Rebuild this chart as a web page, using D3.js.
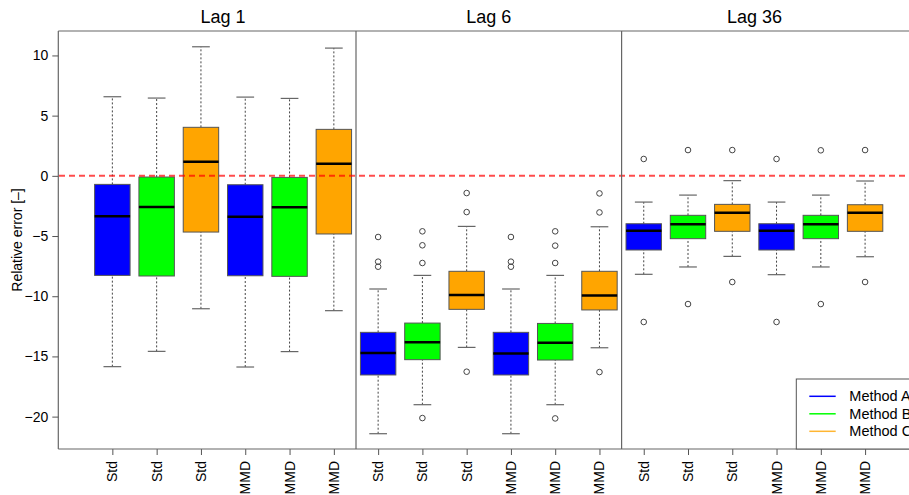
<!DOCTYPE html>
<html><head><meta charset="utf-8">
<script src="https://cdn.jsdelivr.net/npm/d3@7/dist/d3.min.js"></script>
<style>body{margin:0;background:#fff}svg{display:block;font-family:"Liberation Sans",Arial,sans-serif}</style>
</head><body><svg id="c" width="909" height="495"></svg>
<script>
const lags = ["Lag 1", "Lag 6", "Lag 36"];
const categories = ["Std", "Std", "Std", "MMD", "MMD", "MMD"];
const methods = ["Method A", "Method B", "Method C"];
const methodColors = ["#0000FF", "#00FF00", "#FFA500"];
const yTicks = [-20, -15, -10, -5, 0, 5, 10];
// [lower whisker, Q1, median, Q3, upper whisker]
const lag1Stats = [
  [-15.85, -8.27, -3.36, -0.71, 6.57],
  [-14.58, -8.32, -2.59, -0.10, 6.46],
  [-11.04, -4.67, 1.17, 4.03, 10.72],
  [-15.88, -8.30, -3.39, -0.74, 6.54],
  [-14.60, -8.35, -2.62, -0.13, 6.43],
  [-11.20, -4.83, 1.00, 3.86, 10.61]
];
const lag1Outliers = [[], [], [], [], [], []];
const lag6Stats = [
  [-21.42, -16.54, -14.72, -13.00, -9.40],
  [-19.01, -15.27, -13.83, -12.23, -8.27],
  [-14.25, -11.09, -9.90, -7.93, -4.20],
  [-21.42, -16.54, -14.75, -13.00, -9.40],
  [-19.01, -15.30, -13.86, -12.26, -8.27],
  [-14.28, -11.14, -9.93, -7.93, -4.23]
];
const lag6Outliers = [
  [-5.08, -7.13, -7.55],
  [-4.61, -5.77, -7.24, -20.12],
  [-1.43, -3.01, -16.27],
  [-5.08, -7.13, -7.55],
  [-4.61, -5.80, -7.24, -20.15],
  [-1.46, -3.04, -16.30]
];
const lag36Stats = [
  [-8.18, -6.16, -4.56, -3.98, -2.18],
  [-7.57, -5.22, -4.03, -3.28, -1.60],
  [-6.69, -4.61, -3.06, -2.37, -0.40],
  [-8.21, -6.16, -4.56, -3.98, -2.18],
  [-7.57, -5.22, -4.03, -3.28, -1.60],
  [-6.72, -4.61, -3.06, -2.40, -0.43]
];
const lag36Outliers = [
  [1.40, -12.14],
  [2.14, -10.65],
  [2.14, -8.82],
  [1.40, -12.14],
  [2.12, -10.65],
  [2.14, -8.82]
];
const allStats = [lag1Stats, lag6Stats, lag36Stats];
const allOutliers = [lag1Outliers, lag6Outliers, lag36Outliers];
const boxMethod = [0, 1, 2, 0, 1, 2];

const svg = d3.select("#c");
const plotTop = 31, plotBottom = 449;
const y = d3.scaleLinear().domain([-22.69, 12.03]).range([plotBottom, plotTop]);

const panels = [
  {dom: [-0.22, 6.5], rng: [58.3, 356]},
  {dom: [0.5, 6.5], rng: [356, 621.6]},
  {dom: [0.5, 7.5], rng: [621.6, 621.6 + 7 * 44.27]}
];
const frameColor = "#666";

panels.forEach((p, pi) => {
  const x = d3.scaleLinear().domain(p.dom).range(p.rng);
  const g = svg.append("g");
  const stats = allStats[pi], outs = allOutliers[pi];
  const bw = 0.8, cw = 0.4;
  stats.forEach((s, i) => {
    const cx = x(i + 1);
    const col = methodColors[boxMethod[i]];
    g.append("line").attr("x1", cx).attr("x2", cx).attr("y1", y(s[0])).attr("y2", y(s[1]))
      .attr("stroke", "#444").attr("stroke-dasharray", "2,2");
    g.append("line").attr("x1", cx).attr("x2", cx).attr("y1", y(s[3])).attr("y2", y(s[4]))
      .attr("stroke", "#444").attr("stroke-dasharray", "2,2");
    [s[0], s[4]].forEach(v => {
      g.append("line").attr("x1", x(i + 1 - cw / 2)).attr("x2", x(i + 1 + cw / 2))
        .attr("y1", y(v)).attr("y2", y(v)).attr("stroke", "#666").attr("stroke-width", 1.2);
    });
    g.append("rect").attr("x", x(i + 1 - bw / 2)).attr("width", x(i + 1 + bw / 2) - x(i + 1 - bw / 2))
      .attr("y", y(s[3])).attr("height", y(s[1]) - y(s[3]))
      .attr("fill", col).attr("stroke", "#555").attr("stroke-width", 1);
    g.append("line").attr("x1", x(i + 1 - bw / 2)).attr("x2", x(i + 1 + bw / 2))
      .attr("y1", y(s[2])).attr("y2", y(s[2])).attr("stroke", "#000").attr("stroke-width", 2.5);
    outs[i].forEach(v => {
      g.append("circle").attr("cx", cx).attr("cy", y(v)).attr("r", 2.8)
        .attr("fill", "none").attr("stroke", "#444").attr("stroke-width", 1);
    });
  });
  const xAxis = d3.axisBottom(x).tickValues(d3.range(1, 7)).tickSize(6).tickFormat("");
  const ax = svg.append("g").attr("transform", `translate(0,${plotBottom})`).call(xAxis);
  ax.select(".domain").remove();
  ax.selectAll(".tick line").attr("stroke", "#555");
  categories.forEach((c, i) => {
    svg.append("text").attr("transform", `translate(${x(i + 1) + 5},${plotBottom + 12}) rotate(-90)`)
      .attr("text-anchor", "end").attr("font-size", 14).attr("fill", "#000").text(c);
  });
  svg.append("text").attr("x", (x(0.5) + x(6.5)) / 2).attr("y", 23).attr("text-anchor", "middle")
    .attr("font-size", 18).attr("fill", "#000").text(lags[pi]);
});

svg.append("line").attr("x1", 59).attr("x2", 909).attr("y1", y(0)).attr("y2", y(0))
  .attr("stroke", "rgba(255,0,0,0.7)").attr("stroke-width", 2).attr("stroke-dasharray", "6,4");

const f = svg.append("g").attr("stroke", frameColor).attr("stroke-width", 1.2).attr("fill", "none");
f.append("line").attr("x1", 58.3).attr("x2", 909).attr("y1", plotTop).attr("y2", plotTop);
f.append("line").attr("x1", 58.3).attr("x2", 909).attr("y1", plotBottom).attr("y2", plotBottom);
[58.3, 356, 621.6].forEach(xv => f.append("line").attr("x1", xv).attr("x2", xv).attr("y1", plotTop).attr("y2", plotBottom));

const yAxis = d3.axisLeft(y).tickValues(yTicks).tickSize(6).tickPadding(4)
  .tickFormat(d => d < 0 ? "\u2212" + Math.abs(d) : d);
const ya = svg.append("g").attr("transform", "translate(58.3,0)").call(yAxis);
ya.select(".domain").remove();
ya.selectAll(".tick line").attr("stroke", "#555");
ya.selectAll(".tick text").attr("font-size", 14).attr("fill", "#000").attr("font-family", "Liberation Sans, Arial, sans-serif");
svg.append("text").attr("transform", `translate(22,${(plotTop + plotBottom) / 2}) rotate(-90)`)
  .attr("text-anchor", "middle").attr("font-size", 14).attr("fill", "#000").text("Relative error [\u2013]");

const lg = svg.append("g");
lg.append("rect").attr("x", 796.3).attr("y", 379).attr("width", 130).attr("height", plotBottom - 379)
  .attr("fill", "#fff").attr("stroke", "#555").attr("stroke-width", 1);
methods.forEach((m, i) => {
  const yy = 396.3 + i * 17.5;
  lg.append("line").attr("x1", 809.3).attr("x2", 835.7).attr("y1", yy).attr("y2", yy)
    .attr("stroke", methodColors[i]).attr("stroke-width", 1.5).attr("opacity", i === 2 ? 0.8 : 1);
  lg.append("text").attr("x", 849.3).attr("y", yy + 5).attr("font-size", 14.5).attr("fill", "#000").text(m);
});
</script></body></html>
